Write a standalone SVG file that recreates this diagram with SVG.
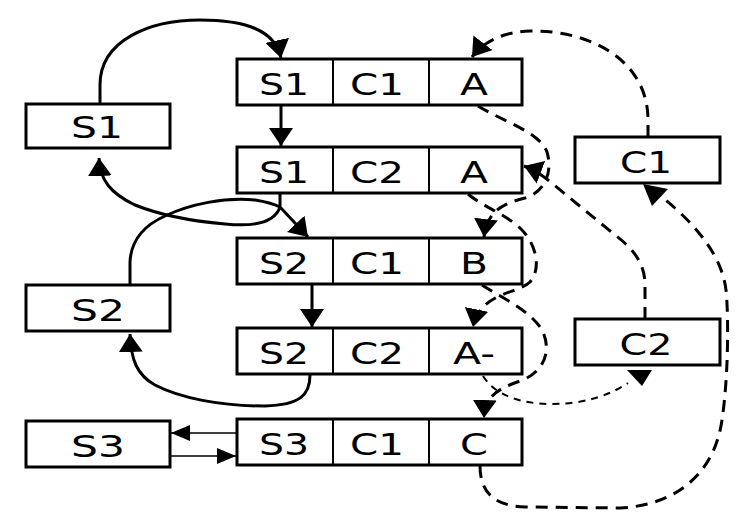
<svg xmlns="http://www.w3.org/2000/svg" width="746" height="518" viewBox="0 0 746 518">
<style>
.box{fill:#fff;stroke:#000;stroke-width:3}
.div{stroke:#000;stroke-width:2}
.t{font-family:"DejaVu Sans",Verdana,sans-serif;font-size:31px;fill:#000;text-anchor:middle}
.sl{fill:none;stroke:#000;stroke-width:3}
.thin{fill:none;stroke:#000;stroke-width:1.6}
.dl{fill:none;stroke:#000;stroke-width:3;stroke-dasharray:12 8}
.dt{fill:none;stroke:#000;stroke-width:2;stroke-dasharray:7 6}
.ah{fill:#000}
</style>
<defs>
<marker id="ah" viewBox="0 0 18 24" refX="18" refY="12" markerWidth="18" markerHeight="24" markerUnits="userSpaceOnUse" orient="auto"><path d="M0,0 L18,12 L0,24 z" fill="#000"/></marker>
<marker id="ahs" viewBox="0 0 19 16" refX="19" refY="8" markerWidth="19" markerHeight="16" markerUnits="userSpaceOnUse" orient="auto"><path d="M0,0 L19,8 L0,16 z" fill="#000"/></marker>
</defs>
<rect width="746" height="518" fill="#fff"/>

<g id="connectors">
<path class="sl" d="M100,104 L100,85 C100,40 150,20 200,20 C245,20 275,30 281,58" marker-end="url(#ah)"/>
<path class="sl" d="M281,105 L281,146" marker-end="url(#ah)"/>
<path class="sl" d="M280,193 L280,207 L308,237" marker-end="url(#ah)"/>
<path class="sl" d="M280,207 C275,222 255,227 225,224 C190,221 160,215 135,205 C110,193 100,180 99,158" marker-end="url(#ah)"/>
<path class="sl" d="M130,285 L130,262 C131,240 145,225 165,216 C190,204 225,197 255,200 C268,202 276,205 280,207"/>
<path class="sl" d="M312,284 L312,327" marker-end="url(#ah)"/>
<path class="sl" d="M310,375 C310,395 300,405 265,406 C220,406 180,398 155,385 C137,375 131,360 130,334" marker-end="url(#ah)"/>
<path class="thin" d="M237,433 L171,433" marker-end="url(#ahs)"/>
<path class="thin" d="M170,456 L236,456" marker-end="url(#ahs)"/>

<path class="dl" d="M648,137 L648,120 C648,60 590,30 530,31 C505,32 485,40 472,57" marker-end="url(#ah)"/>
<path class="dl" d="M645,319 L645,285 C645,265 635,250 615,235 L548,180 C540,174 532,169 524,166" marker-end="url(#ah)"/>
<path class="dl" d="M478,106 C500,120 540,132 547,152 C553,172 545,192 525,198 C505,203 487,210 484,237" marker-end="url(#ah)"/>
<path class="dl" d="M468,194 C482,206 505,214 520,228 C536,243 542,268 530,282 C518,294 480,292 473,327" marker-end="url(#ah)"/>
<path class="dl" d="M482,285 C500,297 530,310 542,330 C552,350 545,372 520,381 C500,388 485,395 484,418" marker-end="url(#ah)"/>
<path class="dt" d="M483,376 C495,395 520,404 552,404 C585,404 610,395 628,383"/>
<polygon class="ah" points="627,370 652,370 642,386"/>
<path class="dl" d="M480,466 C480,490 492,506 525,507 L620,508 C680,505 715,470 722,420 C728,380 729,320 726,290 C722,258 700,228 662,197"/>
<polygon class="ah" points="643,184 668,189 652,206"/>
</g>

<g id="S1">
<rect class="box" x="26" y="104" width="144" height="44"/>
<text class="t" x="97" y="138" textLength="52" lengthAdjust="spacingAndGlyphs">S1</text>
</g>
<g id="S2">
<rect class="box" x="26" y="285" width="144" height="46"/>
<text class="t" x="98" y="321" textLength="54" lengthAdjust="spacingAndGlyphs">S2</text>
</g>
<g id="S3">
<rect class="box" x="26" y="421" width="144" height="46"/>
<text class="t" x="98" y="457" textLength="54" lengthAdjust="spacingAndGlyphs">S3</text>
</g>
<g id="C1">
<rect class="box" x="575" y="137" width="145" height="46"/>
<text class="t" x="646" y="173" textLength="52" lengthAdjust="spacingAndGlyphs">C1</text>
</g>
<g id="C2">
<rect class="box" x="575" y="319" width="145" height="46"/>
<text class="t" x="646" y="355" textLength="53" lengthAdjust="spacingAndGlyphs">C2</text>
</g>

<g id="R1">
<rect class="box" x="237" y="59" width="285" height="46"/>
<line class="div" x1="333" y1="59" x2="333" y2="105"/>
<line class="div" x1="429" y1="59" x2="429" y2="105"/>
<text class="t" x="284" y="95" textLength="50" lengthAdjust="spacingAndGlyphs">S1</text>
<text class="t" x="377" y="95" textLength="54" lengthAdjust="spacingAndGlyphs">C1</text>
<text class="t" x="474" y="95" textLength="28" lengthAdjust="spacingAndGlyphs">A</text>
</g>
<g id="R2">
<rect class="box" x="237" y="147" width="285" height="46"/>
<line class="div" x1="333" y1="147" x2="333" y2="193"/>
<line class="div" x1="429" y1="147" x2="429" y2="193"/>
<text class="t" x="284" y="183" textLength="50" lengthAdjust="spacingAndGlyphs">S1</text>
<text class="t" x="377" y="183" textLength="54" lengthAdjust="spacingAndGlyphs">C2</text>
<text class="t" x="474" y="183" textLength="28" lengthAdjust="spacingAndGlyphs">A</text>
</g>
<g id="R3">
<rect class="box" x="237" y="238" width="285" height="46"/>
<line class="div" x1="333" y1="238" x2="333" y2="284"/>
<line class="div" x1="429" y1="238" x2="429" y2="284"/>
<text class="t" x="284" y="274" textLength="50" lengthAdjust="spacingAndGlyphs">S2</text>
<text class="t" x="377" y="274" textLength="54" lengthAdjust="spacingAndGlyphs">C1</text>
<text class="t" x="474" y="274" textLength="28" lengthAdjust="spacingAndGlyphs">B</text>
</g>
<g id="R4">
<rect class="box" x="237" y="328" width="285" height="46"/>
<line class="div" x1="333" y1="328" x2="333" y2="374"/>
<line class="div" x1="429" y1="328" x2="429" y2="374"/>
<text class="t" x="284" y="364" textLength="50" lengthAdjust="spacingAndGlyphs">S2</text>
<text class="t" x="377" y="364" textLength="54" lengthAdjust="spacingAndGlyphs">C2</text>
<text class="t" x="474" y="364" textLength="42" lengthAdjust="spacingAndGlyphs">A-</text>
</g>
<g id="R5">
<rect class="box" x="237" y="419" width="285" height="46"/>
<line class="div" x1="333" y1="419" x2="333" y2="465"/>
<line class="div" x1="429" y1="419" x2="429" y2="465"/>
<text class="t" x="284" y="455" textLength="50" lengthAdjust="spacingAndGlyphs">S3</text>
<text class="t" x="377" y="455" textLength="54" lengthAdjust="spacingAndGlyphs">C1</text>
<text class="t" x="474" y="455" textLength="28" lengthAdjust="spacingAndGlyphs">C</text>
</g>
</svg>
